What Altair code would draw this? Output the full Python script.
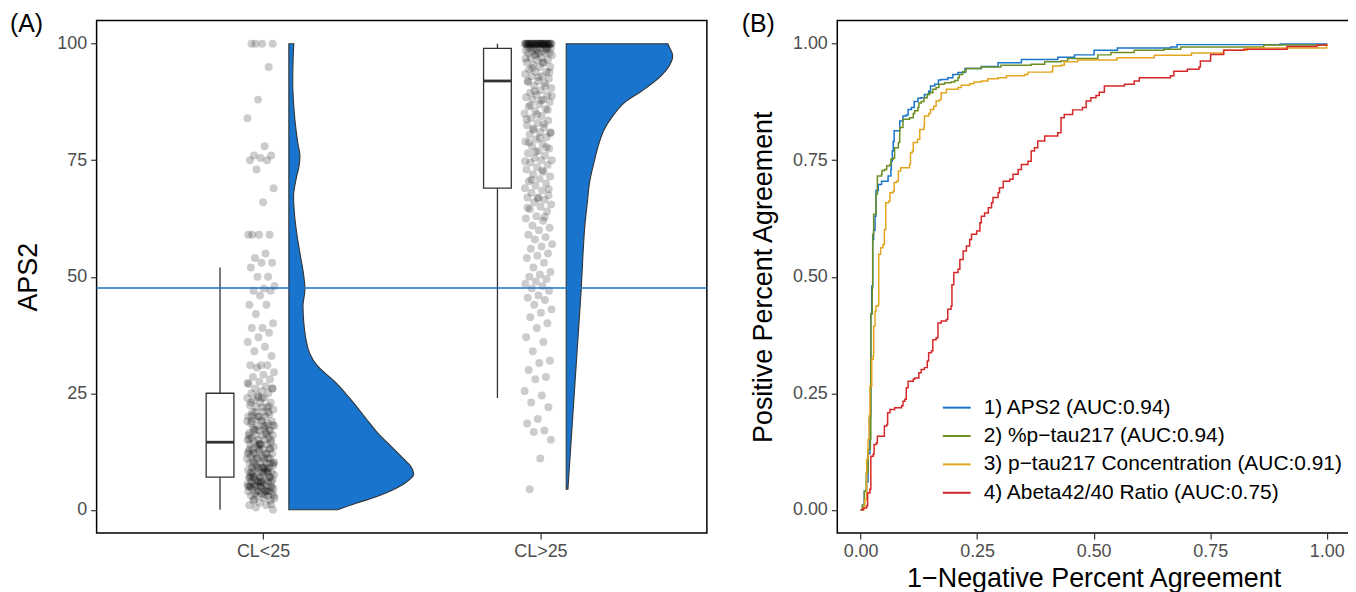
import altair as alt
import pandas as pd
import numpy as np

FONT = "Liberation Sans"

# ---------------- Panel A data ----------------
categories = ["CL<25", "CL>25"]
cat_pos = [1, 2]

aps2_cl_lt25 = [
    100, 100, 100, 100, 95, 88, 84, 78, 76, 76, 75.5, 75, 75, 73, 69, 66,
    59, 59, 59, 59, 55, 54, 53, 53, 52, 50, 50, 48, 47.5, 47, 47, 46, 44, 44,
    42, 40, 39, 39, 38, 37, 36, 35, 34, 33, 31, 31, 31, 30.5,
    29.5, 29, 28.5, 28, 27.5, 27, 26.5, 26, 26, 25.5, 25, 25, 24.5, 24, 24,
    23.5, 23, 23, 22.5, 22, 22, 21.5, 21, 21, 20.5, 20, 20, 20, 19.5, 19, 19,
    18.5, 18.5, 18, 18, 17.5, 17.5, 17, 17, 16.5, 16.5, 16, 16, 16, 15.5, 15.5,
    15, 15, 15, 14.5, 14.5, 14, 14, 14, 13.5, 13.5, 13, 13, 13, 12.5, 12.5,
    12, 12, 12, 11.5, 11.5, 11, 11, 11, 10.5, 10.5, 10, 10, 10, 10, 9.5, 9.5,
    9, 9, 9, 9, 8.5, 8.5, 8.5, 8, 8, 8, 8, 7.5, 7.5, 7.5, 7, 7, 7, 7, 6.5,
    6.5, 6.5, 6, 6, 6, 6, 5.5, 5.5, 5.5, 5, 5, 5, 5, 5, 4.5, 4.5, 4.5, 4, 4,
    4, 4, 3.5, 3.5, 3.5, 3, 3, 3, 2.5, 2.5, 2, 2, 1.5, 1, 1, 0.5, 0,
    22, 19, 17, 14, 12, 9, 7, 6, 5, 5, 4, 4, 3, 8, 10, 11, 13, 16, 18, 21,
    26, 24, 23, 21, 20, 19, 18, 17, 15, 14, 13, 12, 11, 10, 9, 8, 7, 6, 5, 4,
    5.2, 4.8, 6.2, 7.2, 8.2, 9.2, 10.2, 11.2, 12.2, 13.2, 14.2, 15.2, 16.2,
    17.2, 18.2, 19.2, 20.2, 22.2, 24.2, 27.2, 3.2, 2.2, 1.2, 5.8, 6.8, 8.8,
]
aps2_cl_gt25 = [
    100, 100, 100, 100, 100, 100, 100, 100, 100, 100, 100, 100, 100, 100, 100,
    100, 100, 100, 100, 100, 100, 100, 100, 100, 100, 100, 100, 100, 100, 100,
    100, 100, 100, 100, 100,
    99.5, 99.5, 99.5, 99.5, 99.5, 99, 99, 99, 99, 99, 98.5, 98.5, 98.5, 98.5,
    98, 98, 98, 98, 97.5, 97.5, 97, 97, 96.5, 96.5, 96, 96, 95.5, 95, 95, 94.5,
    94, 94, 93.5, 93, 93, 92.5, 92, 92, 91.5, 91, 90.5, 90, 89.5, 89, 89, 88.5,
    88, 88, 87.5, 87, 86.5, 86, 85.5, 85, 84.5, 84, 83.5, 83, 82.5, 82, 81.5,
    81, 81, 80.5, 80, 79.5, 79, 78.5, 78, 77.5, 77, 76.5, 76, 75.5, 75, 75,
    74.5, 74, 73.5, 73, 72.5, 72, 71.5, 71, 70.5, 70, 69.5, 69, 68.5, 68, 67.5,
    67, 67, 66.5, 66, 65.5, 65, 64.5, 64, 63, 62.5, 62, 61, 60.5, 60, 59, 58.5,
    58, 57, 56.5, 56, 55, 54.5, 54, 53, 52, 51, 50.5, 50, 49.5, 49, 48.5, 48,
    47.5, 47, 46, 45.5, 45, 44, 43, 42.3, 41.3, 40, 39, 37, 36, 34, 32, 31.5,
    30, 28.5, 28, 25.5, 24.5, 23, 22, 19.5, 18.5, 17, 16.7, 15, 11, 4.4,
    98.8, 97.8, 96.8, 95.8, 94.8, 93.8, 92.8, 91.8, 90.8, 89.8, 88.8, 87.8,
    86.8, 85.8, 84.8, 83.8, 82.8, 81.8, 80.8, 79.8, 78.8, 77.8, 76.8, 74.8,
    72.8, 70.8, 68.8, 66.8, 64.8, 62.8,
]

box_lower = [0, 24]
box_q1 = [7, 69]
box_median = [14.5, 92]
box_q3 = [25, 99]
box_upper = [52, 100]

violin_lt25_y = [0, 1.5, 2.9, 4.4, 5.8, 7.6, 9.4, 10.8, 13.7, 16.5, 18.7, 23.7,
                 27.6, 30.8, 33.7, 36.5, 40.1, 43.7, 47.3, 50.1, 54.4, 58.7, 63,
                 67.3, 70.9, 73.8, 75.9, 78.8, 83, 87.3, 91.6, 95.9, 100]
violin_lt25_w = [0.176, 0.248, 0.32, 0.38, 0.421, 0.45, 0.439, 0.416, 0.367,
                 0.32, 0.29, 0.223, 0.164, 0.104, 0.074, 0.062, 0.054, 0.051,
                 0.058, 0.054, 0.042, 0.030, 0.021, 0.017, 0.026, 0.037, 0.040,
                 0.032, 0.023, 0.017, 0.014, 0.015, 0.018]
violin_gt25_y = [4.4, 11.5, 18.7, 25.8, 33, 40.1, 47.3, 54.4, 61.6, 65.9, 70.2,
                 74.5, 78.8, 81.6, 84.5, 87.3, 90.2, 93.1, 95.2, 97.4, 99, 100]
violin_gt25_w = [0.006, 0.014, 0.022, 0.030, 0.038, 0.046, 0.054, 0.060, 0.068,
                 0.076, 0.084, 0.100, 0.119, 0.137, 0.168, 0.209, 0.281, 0.342,
                 0.371, 0.384, 0.374, 0.366]

threshold = [47.6]

# ---------------- Panel B data ----------------
roc_labels = [
    "1) APS2 (AUC:0.94)",
    "2) %p\u2212tau217 (AUC:0.94)",
    "3) p\u2212tau217 Concentration (AUC:0.91)",
    "4) Abeta42/40 Ratio (AUC:0.75)",
]
roc_colors = ["#1874CD", "#6B8E23", "#E3A51E", "#D62728"]

aps2_fpr = [0, 0.004, 0.008, 0.013, 0.016, 0.02, 0.022, 0.024, 0.026, 0.028,
            0.031, 0.033, 0.038, 0.045, 0.059, 0.065, 0.066, 0.068, 0.07, 0.072,
            0.081, 0.084, 0.091, 0.098, 0.102, 0.109, 0.115, 0.123, 0.13, 0.137,
            0.146, 0.15, 0.159, 0.167, 0.173, 0.187, 0.198, 0.209, 0.224, 0.259,
            0.295, 0.345, 0.423, 0.459, 0.501, 0.551, 0.665, 0.679, 0.9, 1.0]
aps2_tpr = [0, 0.01, 0.04, 0.06, 0.12, 0.2, 0.42, 0.48, 0.58, 0.6,
            0.63, 0.685, 0.698, 0.705, 0.716, 0.73, 0.748, 0.77, 0.79, 0.813,
            0.813, 0.834, 0.845, 0.847, 0.859, 0.863, 0.876, 0.883, 0.884, 0.891,
            0.898, 0.909, 0.913, 0.922, 0.923, 0.927, 0.934, 0.938, 0.947, 0.951,
            0.959, 0.966, 0.971, 0.976, 0.986, 0.991, 0.993, 0.998, 0.9995, 1.0]

ptau_pct_fpr = [0, 0.004, 0.008, 0.012, 0.016, 0.021, 0.022, 0.025, 0.026, 0.028,
                0.033, 0.036, 0.045, 0.046, 0.052, 0.056, 0.063, 0.065, 0.07, 0.073,
                0.081, 0.084, 0.091, 0.105, 0.113, 0.116, 0.123, 0.125, 0.13, 0.136,
                0.143, 0.148, 0.155, 0.162, 0.168, 0.18, 0.194, 0.202, 0.209, 0.212,
                0.219, 0.226, 0.259, 0.301, 0.366, 0.395, 0.43, 0.444, 0.509, 0.537,
                0.587, 0.651, 0.687, 0.865, 1.0]
ptau_pct_tpr = [0, 0.01, 0.04, 0.08, 0.13, 0.15, 0.42, 0.476, 0.591, 0.634,
                0.677, 0.716, 0.72, 0.728, 0.73, 0.738, 0.741, 0.752, 0.755, 0.777,
                0.788, 0.82, 0.838, 0.841, 0.85, 0.856, 0.863, 0.873, 0.876, 0.884,
                0.891, 0.895, 0.902, 0.906, 0.913, 0.916, 0.918, 0.921, 0.927, 0.934,
                0.94, 0.947, 0.95, 0.954, 0.956, 0.961, 0.963, 0.968, 0.976, 0.981,
                0.986, 0.988, 0.993, 0.997, 1.0]

ptau_conc_fpr = [0, 0.007, 0.009, 0.013, 0.016, 0.018, 0.02, 0.024, 0.024, 0.027,
                 0.028, 0.031, 0.033, 0.038, 0.039, 0.043, 0.048, 0.051, 0.054, 0.06,
                 0.063, 0.07, 0.072, 0.077, 0.081, 0.086, 0.105, 0.107, 0.111, 0.113,
                 0.122, 0.127, 0.136, 0.137, 0.146, 0.15, 0.157, 0.162, 0.169, 0.173,
                 0.184, 0.209, 0.216, 0.234, 0.243, 0.259, 0.273, 0.295, 0.313, 0.352,
                 0.359, 0.409, 0.412, 0.43, 0.437, 0.466, 0.55, 0.63, 0.71, 0.779,
                 0.829, 1.0]
ptau_conc_tpr = [0, 0.008, 0.022, 0.108, 0.151, 0.201, 0.265, 0.273, 0.323, 0.33,
                 0.394, 0.426, 0.437, 0.441, 0.548, 0.562, 0.569, 0.601, 0.659, 0.662,
                 0.68, 0.684, 0.702, 0.705, 0.727, 0.734, 0.741, 0.766, 0.77, 0.788,
                 0.795, 0.816, 0.823, 0.845, 0.85, 0.859, 0.866, 0.877, 0.88, 0.895,
                 0.902, 0.906, 0.911, 0.914, 0.918, 0.92, 0.925, 0.927, 0.931, 0.934,
                 0.939, 0.94, 0.952, 0.954, 0.961, 0.965, 0.970, 0.975, 0.980, 0.986,
                 0.991, 1.0]

abeta_fpr = [0, 0.006, 0.013, 0.015, 0.02, 0.022, 0.027, 0.029, 0.034, 0.036,
             0.048, 0.051, 0.056, 0.058, 0.063, 0.073, 0.088, 0.091, 0.095, 0.098,
             0.102, 0.113, 0.116, 0.125, 0.13, 0.137, 0.143, 0.146, 0.152, 0.155,
             0.162, 0.166, 0.173, 0.184, 0.187, 0.194, 0.196, 0.2, 0.209, 0.213,
             0.22, 0.227, 0.234, 0.238, 0.249, 0.256, 0.259, 0.266, 0.274, 0.281,
             0.284, 0.295, 0.298, 0.306, 0.32, 0.327, 0.338, 0.345, 0.359, 0.366,
             0.373, 0.38, 0.395, 0.423, 0.43, 0.437, 0.455, 0.476, 0.484, 0.494,
             0.505, 0.512, 0.523, 0.566, 0.587, 0.598, 0.665, 0.672, 0.701, 0.726,
             0.729, 0.751, 0.779, 0.822, 0.915, 0.979, 1.0]
abeta_tpr = [0, 0.004, 0.008, 0.036, 0.044, 0.115, 0.119, 0.14, 0.144, 0.158,
             0.158, 0.18, 0.183, 0.208, 0.215, 0.219, 0.223, 0.233, 0.237, 0.262,
             0.276, 0.28, 0.283, 0.294, 0.301, 0.305, 0.319, 0.337, 0.341, 0.365,
             0.369, 0.401, 0.405, 0.408, 0.43, 0.437, 0.483, 0.509, 0.516, 0.537,
             0.555, 0.566, 0.58, 0.591, 0.598, 0.616, 0.63, 0.637, 0.648, 0.659,
             0.67, 0.68, 0.691, 0.705, 0.709, 0.72, 0.73, 0.741, 0.748, 0.77,
             0.777, 0.791, 0.802, 0.809, 0.841, 0.848, 0.858, 0.863, 0.877, 0.884,
             0.889, 0.896, 0.909, 0.913, 0.92, 0.927, 0.931, 0.941, 0.945, 0.95,
             0.963, 0.977, 0.986, 0.988, 0.994, 0.997, 1.0]

# ---------------- build tables ----------------
BOX_OFF, BOX_HALF = -0.155, 0.05
VIO_OFF = 0.093
JIT_OFF, JIT_HALF = -0.008, 0.05

rows = []
for pos, vals in zip(cat_pos, [aps2_cl_lt25, aps2_cl_gt25]):
    for i, v in enumerate(vals):
        frac = (i * 0.6180339887 + pos * 0.31) % 1.0
        rows.append({"x": pos + JIT_OFF + (frac - 0.5) * 2 * JIT_HALF, "aps2": v})
pts = pd.DataFrame(rows)

box = pd.DataFrame({
    "cat": categories,
    "xc": [p + BOX_OFF for p in cat_pos],
    "xl": [p + BOX_OFF - BOX_HALF for p in cat_pos],
    "xr": [p + BOX_OFF + BOX_HALF for p in cat_pos],
    "lo": box_lower, "q1": box_q1, "med": box_median, "q3": box_q3, "hi": box_upper,
})

vrows = []
for pos, ys, ws, cat in zip(cat_pos, [violin_lt25_y, violin_gt25_y],
                            [violin_lt25_w, violin_gt25_w], categories):
    for y, w in zip(ys, ws):
        vrows.append({"cat": cat, "aps2": y, "x0": pos + VIO_OFF, "x1": pos + VIO_OFF + w})
vio = pd.DataFrame(vrows)

thr = pd.DataFrame({"aps2": threshold})

roc_rows = []
for lab, fx, ty in zip(roc_labels,
                       [aps2_fpr, ptau_pct_fpr, ptau_conc_fpr, abeta_fpr],
                       [aps2_tpr, ptau_pct_tpr, ptau_conc_tpr, abeta_tpr]):
    for i, (a, b) in enumerate(zip(fx, ty)):
        roc_rows.append({"marker": lab, "fpr": a, "tpr": b, "idx": i})
roc = pd.DataFrame(roc_rows)

# ---------------- Panel A ----------------
xa_scale = alt.Scale(domain=[0.4, 2.6], nice=False, zero=False)
ya_scale = alt.Scale(domain=[-5, 105], nice=False, zero=False)
xa_axis = alt.Axis(values=cat_pos, labelExpr="datum.value == 1 ? 'CL<25' : 'CL>25'",
                   title=None)
ya_axis = alt.Axis(values=[0, 25, 50, 75, 100], title="APS2", titlePadding=14)

violin = alt.Chart(vio).mark_area(
    orient="horizontal", interpolate="monotone", color="#1874CD",
    stroke="#333333", strokeWidth=1.1, fillOpacity=1
).encode(
    y=alt.Y("aps2:Q", scale=ya_scale, axis=ya_axis),
    x=alt.X("x0:Q", scale=xa_scale, axis=xa_axis),
    x2="x1:Q",
    detail="cat:N",
)

whisker = alt.Chart(box).mark_rule(color="#333333", strokeWidth=1.3).encode(
    x=alt.X("xc:Q", scale=xa_scale, axis=xa_axis),
    y=alt.Y("lo:Q", scale=ya_scale, axis=ya_axis),
    y2="hi:Q",
)
boxrect = alt.Chart(box).mark_rect(fill="white", stroke="#333333", strokeWidth=1.3).encode(
    x=alt.X("xl:Q", scale=xa_scale, axis=xa_axis),
    x2="xr:Q",
    y=alt.Y("q1:Q", scale=ya_scale, axis=ya_axis),
    y2="q3:Q",
)
median = alt.Chart(box).mark_rule(color="#333333", strokeWidth=2.8).encode(
    x=alt.X("xl:Q", scale=xa_scale, axis=xa_axis),
    x2="xr:Q",
    y=alt.Y("med:Q", scale=ya_scale, axis=ya_axis),
)
points = alt.Chart(pts).mark_circle(size=64, color="black", opacity=0.2).encode(
    x=alt.X("x:Q", scale=xa_scale, axis=xa_axis),
    y=alt.Y("aps2:Q", scale=ya_scale, axis=ya_axis),
)
hline = alt.Chart(thr).mark_rule(color="#1874CD", strokeWidth=1.5).encode(
    y=alt.Y("aps2:Q", scale=ya_scale, axis=ya_axis),
)
tag_a = alt.Chart(pd.DataFrame({"t": ["(A)"]})).mark_text(
    align="left", baseline="middle", fontSize=25, font=FONT, color="black",
    x=-87, y=4
).encode(text="t:N")

panel_a = alt.layer(violin, whisker, boxrect, median, points, hline, tag_a).properties(
    width=613, height=515
)

# ---------------- Panel B ----------------
xb_scale = alt.Scale(domain=[-0.05, 1.05], nice=False, zero=False)
yb_scale = alt.Scale(domain=[-0.05, 1.05], nice=False, zero=False)

lines = alt.Chart(roc).mark_line(interpolate="step-after", strokeWidth=1.5, clip=True).encode(
    x=alt.X("fpr:Q", scale=xb_scale,
            axis=alt.Axis(values=[0, 0.25, 0.5, 0.75, 1], format=".2f",
                          title="1\u2212Negative Percent Agreement", titlePadding=5)),
    y=alt.Y("tpr:Q", scale=yb_scale,
            axis=alt.Axis(values=[0, 0.25, 0.5, 0.75, 1], format=".2f",
                          title="Positive Percent Agreement", titlePadding=15)),
    color=alt.Color("marker:N", sort=roc_labels,
                    scale=alt.Scale(domain=roc_labels, range=roc_colors),
                    legend=alt.Legend(orient="none", legendX=849, legendY=374,
                                      title=None, symbolType="stroke",
                                      symbolSize=784, symbolStrokeWidth=2,
                                      labelFontSize=21, labelFont=FONT,
                                      labelColor="black", labelLimit=500,
                                      rowPadding=3.5, labelOffset=12, padding=0)),
    order="idx:Q",
)
tag_b = alt.Chart(pd.DataFrame({"t": ["(B)"]})).mark_text(
    align="left", baseline="middle", fontSize=25, font=FONT, color="black",
    x=-96, y=4
).encode(text="t:N")

panel_b = alt.layer(lines, tag_b).properties(width=515, height=515)

chart = alt.hconcat(panel_a, panel_b, spacing=32).properties(
    autosize=alt.AutoSizeParams(type="none"),
    padding={"left": 89, "top": 10, "right": 1257, "bottom": 566}
).configure_view(
    stroke="black", strokeWidth=1.5
).configure_axis(
    labelFont=FONT, labelFontSize=18, labelColor="#4D4D4D",
    titleFont=FONT, titleFontSize=27, titleFontWeight="normal", titleColor="black",
    tickColor="#333333", tickSize=6, tickWidth=1.2, domain=False, grid=False,
    labelPadding=4
)

chart.save("out.html", embed_options={"renderer": "svg", "actions": False})
